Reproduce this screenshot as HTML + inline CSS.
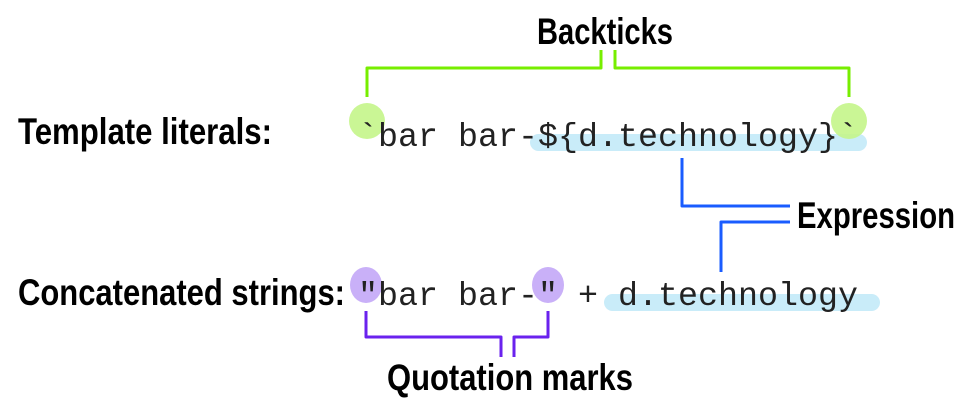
<!DOCTYPE html>
<html><head><meta charset="utf-8"><style>html,body{margin:0;padding:0;background:#fff;width:974px;height:406px;overflow:hidden}</style></head>
<body>
<svg width="974" height="406" viewBox="0 0 974 406" xmlns="http://www.w3.org/2000/svg">
<g fill="none" stroke-width="3" stroke-linejoin="round">
<path d="M367 97 V68 H601 V50" stroke="#77ee00"/>
<path d="M615 50 V68 H849 V97" stroke="#77ee00"/>
<path d="M682 158 V206 H790" stroke="#1a5cff"/>
<path d="M790 222 H721 V272" stroke="#1a5cff"/>
<path d="M366 311 V337 H501 V357" stroke="#6a22ee"/>
<path d="M514 357 V337 H548 V311" stroke="#6a22ee"/>
</g>
<rect x="530" y="134" width="337" height="17" rx="8.5" fill="#c9ecf9"/>
<rect x="604" y="294" width="276" height="17" rx="8.5" fill="#c9ecf9"/>
<circle cx="367" cy="121" r="18" fill="#c4f58a" opacity="0.9"/>
<circle cx="849" cy="121" r="18" fill="#c4f58a" opacity="0.9"/>
<ellipse cx="366" cy="285" rx="16" ry="18" fill="#c9b0f8"/>
<ellipse cx="548" cy="285" rx="16" ry="18" fill="#c9b0f8"/>
<g font-family="Liberation Mono, monospace" font-size="33" fill="#222">
<text x="358" y="146" textLength="500" lengthAdjust="spacingAndGlyphs">`bar bar-${d.technology}`</text>
<text x="358" y="305" textLength="500" lengthAdjust="spacingAndGlyphs">"bar bar-" + d.technology</text>
</g>
<g font-family="Liberation Sans, sans-serif" font-weight="bold" font-size="37" fill="#000">
<text x="537" y="44" textLength="136" lengthAdjust="spacingAndGlyphs">Backticks</text>
<text x="18" y="144" textLength="254" lengthAdjust="spacingAndGlyphs">Template literals:</text>
<text x="797" y="228" textLength="158" lengthAdjust="spacingAndGlyphs">Expression</text>
<text x="18" y="305" textLength="327" lengthAdjust="spacingAndGlyphs">Concatenated strings:</text>
<text x="387" y="390" textLength="246" lengthAdjust="spacingAndGlyphs">Quotation marks</text>
</g>
</svg>
</body></html>
